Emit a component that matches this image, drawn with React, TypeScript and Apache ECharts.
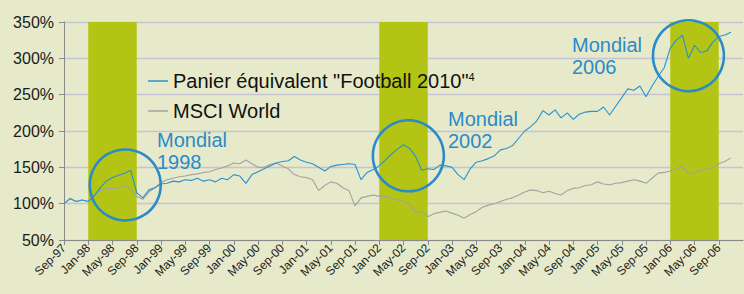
import React, { useEffect, useRef } from "react";
import * as echarts from "echarts";

// Monthly observations, index 0 = Sep-97 (rebased to 100%)
const basketValues = [
  100, 107, 103, 105, 103, 111, 122, 131, 136, 139, 142, 146, 115, 108, 119, 122,
  127, 128, 131, 130, 133, 132, 135, 131, 133, 130, 135, 133, 140, 138, 128, 140,
  144, 148, 152, 156, 158, 159, 165, 160, 157, 155, 150, 145, 151, 153, 154, 155,
  154, 133, 143, 147, 152, 160, 168, 175, 181, 176, 165, 146, 148, 147, 153, 152,
  150, 140, 133, 148, 157, 159, 162, 166, 174, 176, 180, 190, 200, 206, 214, 228,
  222, 229, 218, 225, 216, 223, 226, 227, 227, 233, 222, 234, 246, 258, 256, 262,
  247, 262, 275, 287, 314, 325, 332, 300, 318, 308, 310, 322, 330, 332, 336,
];
const msciValues = [
  100, 107, 103, 105, 103, 113, 118, 121, 121, 122, 125, 120, 110, 106, 116, 122,
  129, 133, 135, 137, 138, 140, 141, 143, 144, 147, 149, 152, 156, 155, 160, 155,
  150, 150, 154, 156, 152, 148, 140, 137, 136, 133, 118, 125, 130, 128, 122, 118,
  97, 108, 110, 112, 110, 110, 107, 105, 103, 100, 88, 90, 82, 86, 88, 90,
  87, 84, 80, 85, 89, 95, 98, 100, 103, 106, 108, 112, 116, 119, 118, 115,
  117, 114, 112, 118, 121, 122, 125, 126, 130, 127, 126, 128, 129, 131, 133, 131,
  128, 135, 142, 143, 145, 148, 152, 141, 143, 146, 148, 150, 155, 158, 163,
];
const xTickLabels = [
  "Sep-97", "Jan-98", "May-98", "Sep-98", "Jan-99", "May-99", "Sep-99", "Jan-00",
  "May-00", "Sep-00", "Jan-01", "May-01", "Sep-01", "Jan-02", "May-02", "Sep-02",
  "Jan-03", "May-03", "Sep-03", "Jan-04", "May-04", "Sep-04", "Jan-05", "May-05",
  "Sep-05", "Jan-06", "May-06", "Sep-06",
];
const seriesNames = ['Panier équivalent "Football 2010"', "MSCI World"];
// World Cup periods, in months since Sep-97 (Jan -> Sep of the year)
const worldCupStart = [4, 52, 100];
const worldCupEnd = [12, 60, 108];
const worldCupLabels = ["Mondial\n1998", "Mondial\n2002", "Mondial\n2006"];
// circle centres [month index, value %]
const circleCentres = [
  [10.1, 125.7],
  [56.8, 165.9],
  [103.0, 303.6],
];

const FONT = "'Liberation Sans', Arial, Helvetica, sans-serif";
const BLUE = "#2A92CF";
const ANN_BLUE = "#2A8BC8";

export default function App() {
  const ref = useRef<HTMLDivElement>(null);
  useEffect(() => {
    if (!ref.current) return;
    const chart = echarts.init(ref.current, undefined, { renderer: "svg" });
    const labelPos = [
      [157, 129],
      [448, 107.5],
      [572, 34],
    ];
    chart.setOption({
      animation: false,
      backgroundColor: "#E6EACB",
      textStyle: { fontFamily: FONT },
      grid: { left: 64, top: 22, right: 1, bottom: 54, containLabel: false },
      legend: {
        orient: "vertical",
        left: 143,
        top: 66,
        itemWidth: 20,
        itemHeight: 1.5,
        itemGap: 10,
        icon: "rect",
        data: seriesNames,
        formatter: (name: string) =>
          name === seriesNames[0] ? `{a|${name}}{sup|4}` : `{a|${name}}`,
        textStyle: {
          fontFamily: FONT,
          color: "#111",
          rich: {
            a: { fontSize: 20, lineHeight: 22, color: "#111", fontFamily: FONT },
            sup: { fontSize: 11, lineHeight: 22, color: "#111", fontFamily: FONT, padding: [0, 0, 8, 0] },
          },
        },
      },
      xAxis: {
        type: "value",
        min: 0,
        max: 112,
        interval: 4,
        axisLine: { show: true, lineStyle: { color: "#8A8A8A", width: 1 } },
        axisTick: { show: true, length: 5, lineStyle: { color: "#8A8A8A" } },
        splitLine: { show: false },
        axisLabel: {
          rotate: 45,
          fontSize: 12,
          color: "#1A1A1A",
          fontFamily: FONT,
          margin: 6,
          showMaxLabel: false,
          formatter: (v: number) => xTickLabels[Math.round(v / 4)] ?? "",
        },
      },
      yAxis: {
        type: "value",
        min: 50,
        max: 350,
        interval: 50,
        axisLine: { show: true, lineStyle: { color: "#8A8A8A", width: 1 } },
        axisTick: { show: true, length: 5, lineStyle: { color: "#8A8A8A" } },
        splitLine: { show: true, lineStyle: { color: "#C6C4D2", width: 1.3 } },
        axisLabel: {
          fontSize: 16,
          color: "#1A1A1A",
          fontFamily: FONT,
          margin: 10,
          formatter: (v: number) => `${v}%`,
        },
      },
      series: [
        {
          name: seriesNames[1],
          type: "line",
          data: msciValues.map((v, i) => [i, v]),
          showSymbol: false,
          symbol: "none",
          lineStyle: { color: "#A2A2A2", width: 1.1 },
          itemStyle: { color: "#A2A2A2" },
          z: 3,
          markArea: {
            silent: true,
            itemStyle: { color: "#B3C414" },
            data: worldCupStart.map((s, i) => [{ xAxis: s }, { xAxis: worldCupEnd[i] }]),
          },
        },
        {
          name: seriesNames[0],
          type: "line",
          data: basketValues.map((v, i) => [i, v]),
          showSymbol: false,
          symbol: "none",
          lineStyle: { color: BLUE, width: 1.1 },
          itemStyle: { color: BLUE },
          z: 4,
          markPoint: {
            silent: true,
            symbol: "circle",
            symbolSize: 71,
            label: { show: false },
            itemStyle: { color: "rgba(0,0,0,0)", borderColor: ANN_BLUE, borderWidth: 2.6 },
            data: circleCentres.map((c) => ({ coord: c })),
          },
        },
      ],
      graphic: worldCupLabels.map((t, i) => ({
        type: "text",
        left: labelPos[i][0],
        top: labelPos[i][1],
        z: 10,
        style: {
          text: t,
          fontSize: 20,
          lineHeight: 22,
          fontFamily: FONT,
          fill: ANN_BLUE,
        },
      })),
    });
    return () => chart.dispose();
  }, []);
  return (
    <div
      ref={ref}
      style={{ position: "fixed", left: 0, top: 0, width: 744, height: 294 }}
    />
  );
}
